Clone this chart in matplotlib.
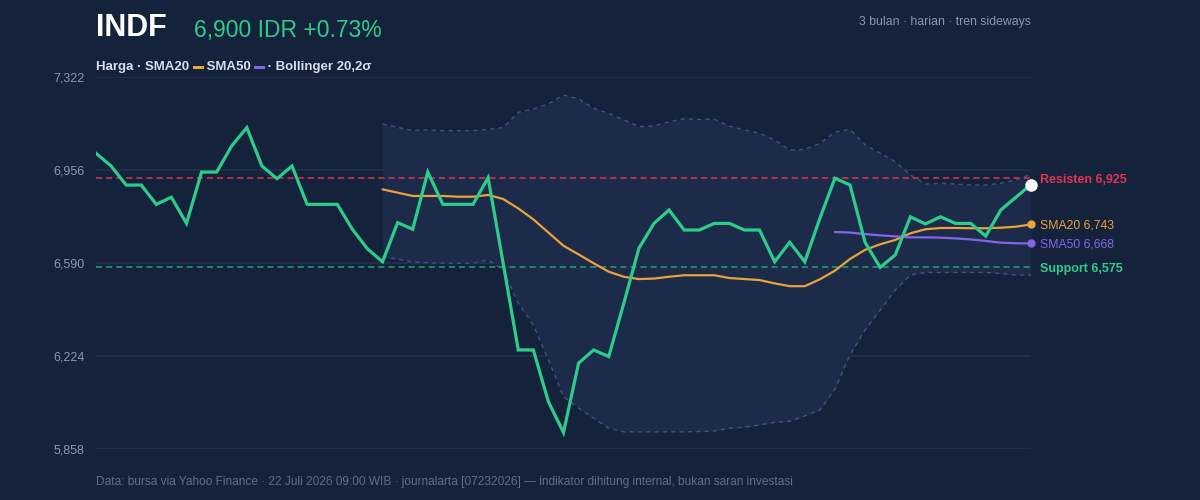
import matplotlib
matplotlib.use("Agg")
import matplotlib.pyplot as plt
import numpy as np
from matplotlib.transforms import blended_transform_factory

plt.rcParams['font.family'] = ['Liberation Sans', 'DejaVu Sans']

ticker = "INDF"
last_price_text = "6,900 IDR +0.73%"
subtitle = "3 bulan · harian · tren sideways"
footer = ("Data: bursa via Yahoo Finance · 22 Juli 2026 09:00 WIB · journalarta [07232026] — "
          "indikator dihitung internal, bukan saran investasi")

y_ticks = [5858, 6224, 6590, 6956, 7322]
y_tick_labels = ["5,858", "6,224", "6,590", "6,956", "7,322"]

price = [7023, 6973, 6898, 6898, 6822, 6850, 6747, 6949, 6949, 7052,
         7124, 6973, 6923, 6973, 6822, 6822, 6822, 6724, 6647, 6596,
         6750, 6724, 6949, 6822, 6822, 6822, 6927, 6590, 6249, 6249,
         6045, 5924, 6197, 6249, 6223, 6433, 6649, 6747, 6800, 6721,
         6721, 6747, 6747, 6721, 6721, 6596, 6673, 6596, 6767, 6925,
         6898, 6672, 6574, 6623, 6773, 6745, 6773, 6747, 6747, 6697,
         6800, 6850, 6900]

sma20_start = 19
sma20 = [6881, 6868, 6855, 6855, 6855, 6852, 6852, 6859, 6843, 6806,
         6763, 6711, 6659, 6625, 6590, 6557, 6537, 6528, 6530, 6537,
         6543, 6543, 6543, 6532, 6528, 6524, 6511, 6500, 6500, 6527,
         6561, 6607, 6643, 6665, 6682, 6708, 6724, 6729, 6729, 6728,
         6728, 6730, 6734, 6743]

sma50_start = 49
sma50 = [6713, 6711, 6705, 6700, 6696, 6692, 6692, 6691, 6688, 6684,
         6678, 6671, 6669, 6668]

bb_upper = [7138, 7125, 7112, 7115, 7112, 7112, 7112, 7117, 7124, 7184,
            7197, 7217, 7252, 7237, 7200, 7180, 7154, 7128, 7130, 7147,
            7159, 7156, 7157, 7130, 7115, 7102, 7075, 7036, 7038, 7062,
            7106, 7117, 7056, 7023, 6990, 6938, 6902, 6905, 6902, 6898,
            6898, 6905, 6918, 6941]
bb_lower = [6616, 6606, 6595, 6592, 6591, 6590, 6590, 6603, 6564, 6433,
            6347, 6210, 6065, 6020, 5980, 5941, 5927, 5927, 5927, 5927,
            5927, 5928, 5930, 5941, 5945, 5954, 5964, 5968, 5989, 6013,
            6095, 6230, 6328, 6406, 6485, 6544, 6554, 6554, 6554, 6554,
            6554, 6550, 6544, 6544]

resistance = 6925
support = 6575

BG = "#15223b"
GRID = "#202e4a"
BAND = "#1c2b4a"
BAND_LINE = "#3b5585"
GREEN = "#2ecc8a"
ORANGE = "#e8a33a"
PURPLE = "#8466e8"
RED = "#e0344f"
TICK = "#8a97ad"
LEGEND_TXT = "#d5deeb"

fig = plt.figure(figsize=(12, 5), dpi=100, facecolor=BG)
ax = fig.add_axes([96/1200, 1 - 449.3/500, (1031-96)/1200, (449.3-77.3)/500])
ax.set_facecolor(BG)
for s in ax.spines.values():
    s.set_visible(False)

n = len(price)
x = np.arange(n)
ax.set_xlim(0, n - 1)
ax.set_ylim(y_ticks[0], y_ticks[-1])

for yv in y_ticks:
    ax.axhline(yv, color=GRID, lw=1.5, zorder=1)

xb = np.arange(sma20_start, sma20_start + len(bb_upper))
ax.fill_between(xb, bb_lower, bb_upper, color=BAND, lw=0, zorder=2)
ax.plot(xb, bb_upper, color=BAND_LINE, lw=1.0, ls=(0, (3, 3)), zorder=3)
ax.plot(xb, bb_lower, color=BAND_LINE, lw=1.0, ls=(0, (3, 3)), zorder=3)

ax.axhline(resistance, color=RED, lw=1.1, ls=(0, (4.0, 2.6)), zorder=4)
ax.axhline(support, color="#2a9f72", lw=1.1, ls=(0, (4.0, 2.6)), zorder=4)

x20 = np.arange(sma20_start, sma20_start + len(sma20))
ax.plot(x20, sma20, color=ORANGE, lw=1.6, zorder=5, solid_capstyle='round')
x50 = np.arange(sma50_start, sma50_start + len(sma50))
ax.plot(x50, sma50, color=PURPLE, lw=1.6, zorder=5, solid_capstyle='round')
ax.plot(x, price, color=GREEN, lw=2.3, zorder=6, solid_joinstyle='miter')

ax.plot([x20[-1]], [sma20[-1]], 'o', color=ORANGE, ms=5, zorder=7, clip_on=False)
ax.plot([x50[-1]], [sma50[-1]], 'o', color=PURPLE, ms=5, zorder=7, clip_on=False)
ax.plot([x[-1]], [price[-1]], 'o', color="white", ms=8, zorder=8, clip_on=False)

ax.set_xticks([])
ax.set_yticks(y_ticks)
ax.set_yticklabels(y_tick_labels, color=TICK, fontsize=9)
ax.tick_params(axis='y', length=0, pad=8)

# Right labels
tr = blended_transform_factory(fig.transFigure, ax.transData)
lx = 1040/1200
ax.text(lx, resistance, "Resisten 6,925", transform=tr, color=RED, fontsize=9,
        fontweight='bold', va='center_baseline', ha='left')
ax.text(lx, sma20[-1], "SMA20 6,743", transform=tr, color=ORANGE, fontsize=8.8,
        va='center_baseline', ha='left')
ax.text(lx, sma50[-1], "SMA50 6,668", transform=tr, color=PURPLE, fontsize=8.8,
        va='center_baseline', ha='left')
ax.text(lx, support, "Support 6,575", transform=tr, color=GREEN, fontsize=9,
        fontweight='bold', va='center_baseline', ha='left')

# Titles
fig.text(96/1200, 1 - 28/500, ticker, color="white", fontsize=22, fontweight='bold',
         va='center', ha='left')
fig.text(194/1200, 1 - 30.5/500, last_price_text, color=GREEN, fontsize=16.5,
         va='center', ha='left')
fig.text(1031/1200, 1 - 21.5/500, subtitle, color=TICK, fontsize=8.8, va='center', ha='right')
fig.text(96/1200, 1 - 482/500, footer, color="#5f6d86", fontsize=8.6, va='center', ha='left')

# Legend line built from pieces
fig.canvas.draw()
renderer = fig.canvas.get_renderer()
pieces = [("Harga · SMA20 ", LEGEND_TXT, 'text'), ("", ORANGE, 'swatch'),
          (" SMA50 ", LEGEND_TXT, 'text'), ("", PURPLE, 'swatch'),
          (" · Bollinger 20,2σ", LEGEND_TXT, 'text')]
cur = 96
ly = 1 - 67/500
for txt, col, kind in pieces:
    if kind == 'text':
        t = fig.text(cur/1200, ly, txt, color=col, fontsize=9.5, fontweight='bold',
                     va='center', ha='left')
        bb = t.get_window_extent(renderer=renderer)
        cur = bb.x1
    else:
        fig.add_artist(plt.Line2D([(cur+1)/1200, (cur+9)/1200], [ly, ly],
                                  transform=fig.transFigure, color=col, lw=2.2))
        cur += 10

fig.savefig("out.png", dpi=100, facecolor=BG)
